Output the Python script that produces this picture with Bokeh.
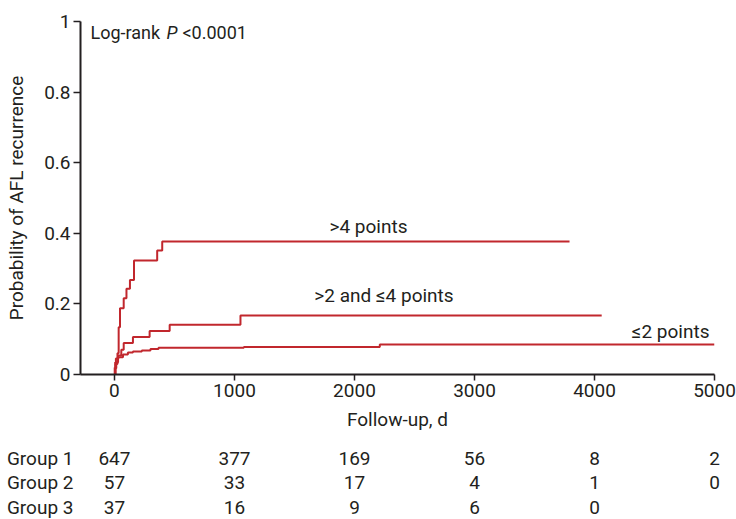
from bokeh.plotting import figure
from bokeh.models import Range1d, FixedTicker
from bokeh.layouts import column
from bokeh.embed import file_html
from bokeh.resources import INLINE
from bokeh.core.properties import value

FONT = "Roboto"
FS = "19px"
RED = "#C1272D"
INK = "#231F20"

# Kaplan-Meier style cumulative curves (time in days, probability)
g1_t = [0, 2, 6, 12, 33, 71, 112, 154, 228, 300, 367, 1078, 2211, 5000]
g1_p = [0, 0.02, 0.035, 0.045, 0.049, 0.057, 0.062, 0.065, 0.068, 0.072, 0.076, 0.078, 0.085, 0.085]

g2_t = [0, 5, 15, 30, 57, 77, 154, 293, 460, 1050, 4060]
g2_p = [0, 0.018, 0.035, 0.054, 0.070, 0.089, 0.106, 0.123, 0.141, 0.167, 0.167]

g3_t = [0, 10, 25, 35, 46, 77, 100, 129, 163, 356, 398, 3792]
g3_p = [0, 0.03, 0.06, 0.134, 0.188, 0.216, 0.243, 0.268, 0.323, 0.351, 0.377, 0.377]

curve_names = ["\u22642 points", ">2 and \u22644 points", ">4 points"]

x_ticks = [0, 1000, 2000, 3000, 4000, 5000]
y_ticks = [0, 0.2, 0.4, 0.6, 0.8, 1]
y_tick_labels = ["0", "0.2", "0.4", "0.6", "0.8", "1"]

group_names = ["Group 1", "Group 2", "Group 3"]
risk_times = [0, 1000, 2000, 3000, 4000, 5000]
risk_g1 = [647, 377, 169, 56, 8, 2]
risk_g2 = [57, 33, 17, 4, 1, 0]
risk_g3 = [37, 16, 9, 6, 0]

X0, X1 = -283, 5000
FRAME_W, BORDER_L, BORDER_R = 634, 80, 22
x_range = Range1d(X0, X1)

p = figure(width=BORDER_L + FRAME_W + BORDER_R, height=435, x_range=x_range, y_range=Range1d(0, 1),
           output_backend="svg", toolbar_location=None,
           min_border_left=BORDER_L, min_border_right=BORDER_R, min_border_top=21, min_border_bottom=61)
p.outline_line_color = None
p.xgrid.visible = False
p.ygrid.visible = False
p.background_fill_color = None
p.border_fill_color = None
p.frame_align = False

for t_, pr in [(g1_t, g1_p), (g2_t, g2_p), (g3_t, g3_p)]:
    p.step(t_, pr, mode="after", line_color=RED, line_width=2)

# curve labels
p.text(x=[2117], y=[0.420], text=[curve_names[2]], text_align="center", text_baseline="alphabetic",
       text_font=value(FONT), text_font_size=FS, text_color=INK)
p.text(x=[2246], y=[0.224], text=[curve_names[1]], text_align="center", text_baseline="alphabetic",
       text_font=value(FONT), text_font_size=FS, text_color=INK)
p.text(x=[4958], y=[0.123], text=[curve_names[0]], text_align="right", text_baseline="alphabetic",
       text_font=value(FONT), text_font_size=FS, text_color=INK)

# log-rank annotation
LR_FS = "18px"
p.text(x=[-200], y=[0.968], text=["Log-rank"], text_align="left", text_baseline="alphabetic",
       text_font=value(FONT), text_font_size=LR_FS, text_color=INK)
p.text(x=[-200], y=[0.968], text=["P"], x_offset=76, text_align="left", text_baseline="alphabetic",
       text_font=value(FONT), text_font_size=LR_FS, text_font_style="italic", text_color=INK)
p.text(x=[-200], y=[0.968], text=["<0.0001"], x_offset=92, text_align="left", text_baseline="alphabetic",
       text_font=value(FONT), text_font_size=LR_FS, text_color=INK)

for ax in (p.xaxis[0], p.yaxis[0]):
    ax.axis_line_width = 2
    ax.axis_line_color = INK
    ax.major_tick_line_width = 1.5
    ax.major_tick_line_color = INK
    ax.minor_tick_line_color = None
    ax.major_tick_in = 0
    ax.major_label_text_font = FONT
    ax.major_label_text_font_size = FS
    ax.major_label_text_color = INK
    ax.axis_label_text_font = FONT
    ax.axis_label_text_font_size = FS
    ax.axis_label_text_color = INK
    ax.axis_label_text_font_style = "normal"

p.xaxis.ticker = FixedTicker(ticks=x_ticks)
p.xaxis.major_tick_out = 6
p.xaxis.major_label_standoff = 3
p.xaxis.axis_label = "Follow-up, d"
p.xaxis.axis_label_standoff = 8

p.yaxis.ticker = FixedTicker(ticks=y_ticks)
p.yaxis.major_label_overrides = {v: s for v, s in zip(y_ticks, y_tick_labels)}
p.yaxis.major_tick_out = 7
p.yaxis.major_label_standoff = 3
p.yaxis.axis_label = "Probability of AFL recurrence"
p.yaxis.axis_label_standoff = 13

# number-at-risk table: frame extends to the right edge so the last column is not clipped,
# with the same data-to-pixel scale as the main plot
days_per_px = (X1 - X0) / FRAME_W
t_range = Range1d(X0, X1 + BORDER_R * days_per_px)
t = figure(width=BORDER_L + FRAME_W + BORDER_R, height=84, x_range=t_range, y_range=Range1d(3.49, 0.061),
           output_backend="svg", toolbar_location=None,
           min_border_left=BORDER_L, min_border_right=0, min_border_top=0, min_border_bottom=0)
t.outline_line_color = None
t.xgrid.visible = False
t.ygrid.visible = False
t.xaxis.visible = False
t.background_fill_color = None
t.border_fill_color = None
t.frame_align = False
ya = t.yaxis[0]
ya.ticker = FixedTicker(ticks=[1, 2, 3])
ya.major_label_overrides = {i + 1: n for i, n in enumerate(group_names)}
ya.axis_line_color = None
ya.major_tick_line_color = None
ya.minor_tick_line_color = None
ya.major_tick_out = 0
ya.major_tick_in = 0
ya.major_label_standoff = 7
ya.major_label_text_font = FONT
ya.major_label_text_font_size = FS
ya.major_label_text_color = INK

for row, counts in enumerate([risk_g1, risk_g2, risk_g3]):
    t.text(x=risk_times[:len(counts)], y=[row + 1] * len(counts), text=[str(c) for c in counts],
           text_align="center", text_baseline="middle",
           text_font=value(FONT), text_font_size=FS, text_color=INK)

layout = column(p, t, spacing=0)
open("out.html", "w").write(file_html(layout, INLINE))
